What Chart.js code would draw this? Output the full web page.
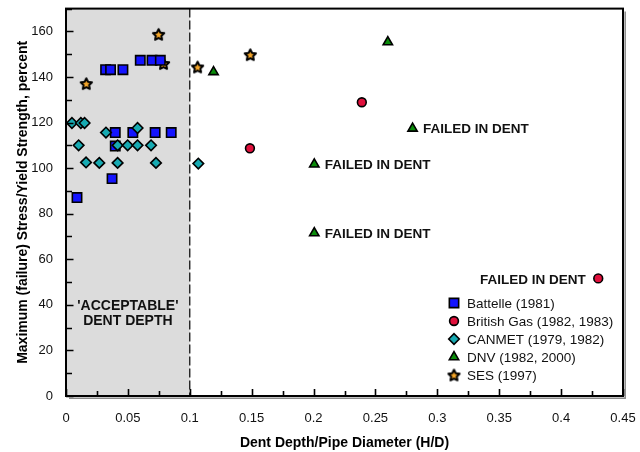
<!DOCTYPE html>
<html>
<head>
<meta charset="utf-8">
<script src="https://cdn.jsdelivr.net/npm/chart.js@4.4.1/dist/chart.umd.min.js"></script>
<style>
  html, body { margin: 0; padding: 0; background: #ffffff; }
  #box { position: relative; width: 640px; height: 452px; }
</style>
</head>
<body>
<div id="box"><canvas id="chart"></canvas></div>
<script>
// Full-scale dent tests: maximum (failure) stress against dent depth ratio H/D

const seriesNames = ['Battelle (1981)', 'British Gas (1982, 1983)', 'CANMET (1979, 1982)', 'DNV (1982, 2000)', 'SES (1997)'];

const battelleX = [0.0089, 0.0372, 0.0398, 0.0398, 0.054, 0.072, 0.085, 0.032, 0.036, 0.046, 0.060, 0.0695, 0.0762];
const battelleY = [87.1, 95.4, 109.7, 115.6, 115.6, 115.6, 115.6, 143.2, 143.2, 143.2, 147.3, 147.3, 147.3];

const britishGasX = [0.1486, 0.239, 0.430];
const britishGasY = [108.7, 128.9, 51.6];

const canmetX = [0.0048, 0.012, 0.015, 0.0323, 0.0578, 0.0102, 0.0417, 0.0498, 0.0578, 0.0687, 0.0162, 0.0269, 0.0417, 0.0727, 0.1069];
const canmetY = [119.8, 119.8, 119.8, 115.6, 117.6, 110.0, 110.0, 110.0, 110.0, 110.0, 102.5, 102.3, 102.3, 102.3, 102.0];

const dnvX = [0.1192, 0.2006, 0.2006, 0.260, 0.280];
const dnvY = [142.2, 101.7, 71.5, 155.3, 117.4];

const sesX = [0.0164, 0.0748, 0.0788, 0.1063, 0.1489];
const sesY = [137.1, 158.7, 145.9, 144.4, 149.8];

const xTickLabels = ['0', '0.05', '0.1', '0.15', '0.2', '0.25', '0.3', '0.35', '0.4', '0.45'];
const yTickLabels = ['0', '20', '40', '60', '80', '100', '120', '140', '160'];

const xTitle = 'Dent Depth/Pipe Diameter (H/D)';
const yTitle = 'Maximum (failure) Stress/Yield Strength, percent';

// upper limit of the shaded "acceptable" band
const acceptableLimit = 0.1;
const acceptableText = ["'ACCEPTABLE'", 'DENT DEPTH'];

// tests that failed inside the dent: [series index, point index, side of the note]
const failedText = 'FAILED IN DENT';
const failedNotes = [
  [3, 4, 'right'],
  [3, 1, 'right'],
  [3, 2, 'right'],
  [1, 2, 'left']
];

const FONT = '"Liberation Sans", Arial, Helvetica, sans-serif';
Chart.defaults.font.family = FONT;
Chart.defaults.color = '#000';

// filled five-point star marker
function makeStar(size, fill) {
  const c = document.createElement('canvas');
  c.width = size; c.height = size;
  const g = c.getContext('2d');
  const cx = size / 2, cy = size / 2 + 0.6, ro = size / 2 - 1.6, ri = ro * 0.5;
  g.beginPath();
  for (let i = 0; i < 10; i++) {
    const r = i % 2 === 0 ? ro : ri;
    const a = -Math.PI / 2 + i * Math.PI / 5;
    const px = cx + r * Math.cos(a), py = cy + r * Math.sin(a);
    if (i === 0) g.moveTo(px, py); else g.lineTo(px, py);
  }
  g.closePath();
  g.fillStyle = fill;
  g.fill();
  g.lineJoin = 'round';
  g.lineWidth = 2;
  g.strokeStyle = '#000';
  g.stroke();
  return c;
}
const starMarker = makeStar(15, '#f5a62a');

function pairs(xs, ys) { return xs.map((x, i) => ({ x: x, y: ys[i] })); }

const styles = [
  { pointStyle: 'rect', radius: 6.6, bg: '#1414ff', order: 1 },
  { pointStyle: 'circle', radius: 4.4, bg: '#e0103c', order: 2 },
  { pointStyle: 'rectRot', radius: 5.3, bg: '#17aab2', order: 0 },
  { pointStyle: 'triangle', radius: 5.4, bg: '#0a8c0a', order: 3 },
  { pointStyle: starMarker, radius: 7, bg: '#f5a62a', order: 4 }
];
const seriesData = [
  pairs(battelleX, battelleY),
  pairs(britishGasX, britishGasY),
  pairs(canmetX, canmetY),
  pairs(dnvX, dnvY),
  pairs(sesX, sesY)
];

const datasets = seriesNames.map((name, i) => ({
  label: name,
  data: seriesData[i],
  pointStyle: styles[i].pointStyle,
  pointRadius: styles[i].radius,
  pointHoverRadius: styles[i].radius,
  backgroundColor: styles[i].bg,
  borderColor: '#000',
  borderWidth: 1.6,
  order: styles[i].order,
  clip: 6
}));

function labelFor(list, v) {
  const s = list.find(l => Math.abs(Number(l) - v) < 1e-6);
  return s === undefined ? '' : s;
}

// shaded band, dashed limit line and its caption
const bandPlugin = {
  id: 'band',
  beforeDatasetsDraw(chart) {
    const { ctx, chartArea: a, scales: { x, y } } = chart;
    const xr = x.getPixelForValue(acceptableLimit);
    ctx.save();
    ctx.fillStyle = '#dcdcdc';
    ctx.fillRect(a.left, a.top, xr - a.left, a.bottom - a.top);
    ctx.strokeStyle = '#000';
    ctx.lineWidth = 1.2;
    ctx.setLineDash([9, 3]);
    ctx.beginPath();
    ctx.moveTo(xr, a.top);
    ctx.lineTo(xr, a.bottom);
    ctx.stroke();
    ctx.setLineDash([]);
    ctx.font = 'bold 14px ' + FONT;
    ctx.textAlign = 'center';
    ctx.textBaseline = 'middle';
    ctx.fillStyle = '#111';
    const cx = x.getPixelForValue(acceptableLimit / 2);
    ctx.fillText(acceptableText[0], cx, y.getPixelForValue(39.5));
    ctx.fillText(acceptableText[1], cx, y.getPixelForValue(33));
    ctx.restore();
  }
};

// frame with drop shadow and inward tick marks
const framePlugin = {
  id: 'frame',
  afterDatasetsDraw(chart) {
    const { ctx, chartArea: a, scales: { x, y } } = chart;
    ctx.save();
    ctx.strokeStyle = '#8a8a8a';
    ctx.lineWidth = 1.5;
    ctx.beginPath();
    ctx.moveTo(a.right + 2.2, a.top + 3);
    ctx.lineTo(a.right + 2.2, a.bottom + 2.2);
    ctx.lineTo(a.left + 3, a.bottom + 2.2);
    ctx.stroke();
    ctx.strokeStyle = '#000';
    ctx.lineWidth = 2;
    ctx.strokeRect(a.left, a.top, a.right - a.left, a.bottom - a.top);
    ctx.lineWidth = 1.6;
    ctx.beginPath();
    x.ticks.forEach(t => {
      const px = Math.round(x.getPixelForValue(t.value)) + 0.5;
      const len = labelFor(xTickLabels, t.value) ? 7 : 5;
      ctx.moveTo(px, a.bottom);
      ctx.lineTo(px, a.bottom - len);
    });
    y.ticks.forEach(t => {
      const py = Math.round(y.getPixelForValue(t.value)) + 0.5;
      const len = labelFor(yTickLabels, t.value) ? 7.5 : 6;
      ctx.moveTo(a.left, py);
      ctx.lineTo(a.left + len, py);
    });
    ctx.stroke();
    ctx.restore();
  }
};

// notes next to failed tests and the series key
const notesPlugin = {
  id: 'notes',
  afterDraw(chart) {
    const { ctx, chartArea: a } = chart;
    ctx.save();
    ctx.font = 'bold 13.5px ' + FONT;
    ctx.fillStyle = '#111';
    ctx.textBaseline = 'middle';
    failedNotes.forEach(([s, i, side]) => {
      const el = chart.getDatasetMeta(s).data[i];
      if (side === 'left') {
        ctx.textAlign = 'right';
        ctx.fillText(failedText, el.x - 12.5, el.y + 1.5);
      } else {
        ctx.textAlign = 'left';
        ctx.fillText(failedText, el.x + 10.5, el.y + 1);
      }
    });

    const mx = a.right - 169, tx = a.right - 156;
    let ly = a.bottom - 93;
    ctx.font = '13.5px ' + FONT;
    ctx.textAlign = 'left';
    chart.data.datasets.forEach((ds) => {
      ctx.fillStyle = ds.backgroundColor;
      ctx.strokeStyle = '#000';
      ctx.lineWidth = ds.borderWidth;
      Chart.helpers.drawPoint(ctx, {
        pointStyle: ds.pointStyle,
        radius: ds.pointRadius,
        rotation: 0,
        borderWidth: ds.borderWidth
      }, mx, ly);
      ctx.fillStyle = '#111';
      ctx.fillText(ds.label, tx, ly + 1);
      ly += 18;
    });
    ctx.restore();
  }
};

new Chart(document.getElementById('chart'), {
  type: 'scatter',
  data: { datasets: datasets },
  plugins: [bandPlugin, framePlugin, notesPlugin],
  options: {
    responsive: true,
    maintainAspectRatio: false,
    animation: false,
    events: [],
    layout: { padding: { top: 8, right: 17, bottom: 0, left: 0 } },
    plugins: { legend: { display: false }, tooltip: { enabled: false } },
    scales: {
      x: {
        type: 'linear',
        min: 0,
        max: 0.45,
        border: { display: false },
        grid: { display: false, drawTicks: false },
        ticks: {
          stepSize: 0.025,
          autoSkip: false,
          maxRotation: 0,
          padding: 15,
          font: { size: 13 },
          color: '#111',
          callback: v => labelFor(xTickLabels, v)
        },
        title: {
          display: true,
          text: xTitle,
          font: { size: 14, weight: 'bold' },
          color: '#000',
          padding: { top: 0, bottom: 0 }
        },
        afterFit: s => { s.height = 56; s.paddingLeft = 0; s.paddingRight = 0; }
      },
      y: {
        type: 'linear',
        min: 0,
        max: 170,
        border: { display: false },
        grid: { display: false, drawTicks: false },
        ticks: {
          stepSize: 10,
          autoSkip: false,
          padding: 13,
          font: { size: 13 },
          color: '#111',
          callback: v => labelFor(yTickLabels, v)
        },
        title: {
          display: true,
          text: yTitle,
          font: { size: 14, weight: 'bold' },
          color: '#000',
          padding: { top: 15, bottom: 0 }
        },
        afterFit: s => { s.width = 66; s.paddingTop = 0; s.paddingBottom = 0; }
      }
    }
  }
});
</script>
</body>
</html>
